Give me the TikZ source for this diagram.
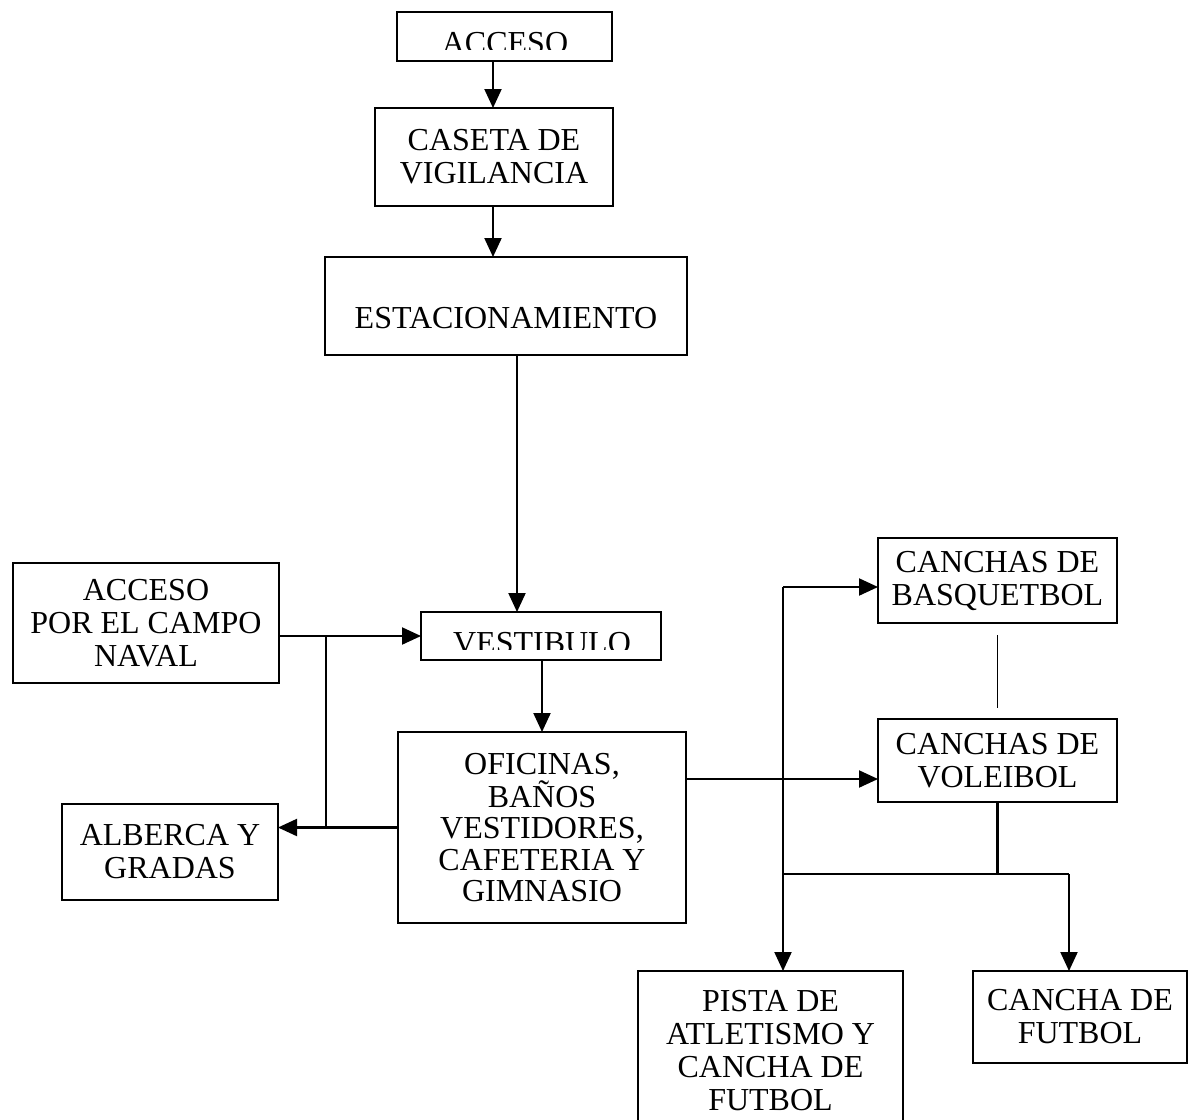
\documentclass[tikz,border=0pt]{standalone}
\usepackage{fontspec}
\setmainfont{Liberation Serif}
\usetikzlibrary{arrows.meta}
\begin{document}
\begin{tikzpicture}[x=1pt,y=-1pt,
  box/.style={draw, line width=2.1pt, rectangle, inner sep=0pt, outer sep=0pt, align=center, font=\fontsize{32}{33}\selectfont},
  lbl/.style={inner sep=0pt, font=\fontsize{32}{33}\selectfont},
  conn/.style={line width=2.1pt},
  arr/.style={conn, -{Triangle[length=19pt,width=17pt]}}]
\fill[white] (0,0) rectangle (1188,1119);
\useasboundingbox (0,0) rectangle (1188,1119);

% boxes
\node[box, minimum width=215, minimum height=49] (acc) at (504.5,36.5) {};
\begin{scope}
  \clip (acc.north west) rectangle ([yshift=12pt]acc.south east);
  \node[lbl] (acct) at (505,43) {ACCESO};
\end{scope}
\node[box, minimum width=238, minimum height=98] (cas) at (494,157) {CASETA DE\\VIGILANCIA};
\node[box, minimum width=362, minimum height=98] (est) at (506,306) {\raisebox{-12pt}[\height][\depth]{ESTACIONAMIENTO}};
\node[box, minimum width=266, minimum height=120] (nav) at (146,623) {ACCESO\\POR EL CAMPO\\NAVAL};
\node[box, minimum width=240, minimum height=48] (ves) at (541,636) {};
\begin{scope}
  \clip (ves.north west) rectangle ([yshift=11pt]ves.south east);
  \node[lbl] (vest) at (542,643.6) {VESTIBULO};
\end{scope}
\node[box, minimum width=288, minimum height=191, font=\fontsize{32}{31.5}\selectfont] (ofi) at (542,827.5) {OFICINAS,\\BAÑOS\\VESTIDORES,\\CAFETERIA Y\\GIMNASIO};
\node[box, minimum width=216, minimum height=96] (alb) at (170,852) {ALBERCA Y\\GRADAS};
\node[box, minimum width=239, minimum height=85] (bas) at (997.5,580.5) {CANCHAS DE\\BASQUETBOL};
\node[box, minimum width=239, minimum height=83] (vol) at (997.5,760.5) {CANCHAS DE\\VOLEIBOL};
\node[box, minimum width=265, minimum height=159] (pis) at (770.5,1050.5) {PISTA DE\\ATLETISMO Y\\CANCHA DE\\FUTBOL};
\node[box, minimum width=214, minimum height=92] (can) at (1080,1017) {CANCHA DE\\FUTBOL};

% connectors
\coordinate (xa) at (493,0);
\coordinate (xb) at (517,0);
\coordinate (j1) at (326,636);
\coordinate (ya) at (0,779);
\coordinate (j2) at (783,587);
\coordinate (j4) at (1069,874);

\draw[arr] (acc.south -| xa) -- (cas.north -| xa);
\draw[arr] (cas.south -| xa) -- (est.north -| xa);
\draw[arr] (est.south -| xb) -- (ves.north -| xb);
\draw[arr] (nav.east |- ves.west) -- (ves.west);
\draw[conn] (j1) -- (j1 |- ofi.west);
\draw[arr] (ofi.west) -- (ofi.west -| alb.east);
\draw[arr] (ofi.north |- ves.south) -- (ofi.north);
\draw[arr] (ofi.east |- ya) -- (vol.west |- ya);
\draw[arr] (j2) -- (j2 -| bas.west);
\draw[arr] (j2) -- (j2 |- pis.north);
\draw[conn, line width=1.6pt] ([yshift=-12pt]bas.south) -- ([yshift=11pt]vol.north);
\draw[conn] (vol.south) -- (vol.south |- j4);
\draw[conn] (j2 |- j4) -- (j4);
\draw[arr] (j4) -- (j4 |- can.north);
\end{tikzpicture}
\end{document}
